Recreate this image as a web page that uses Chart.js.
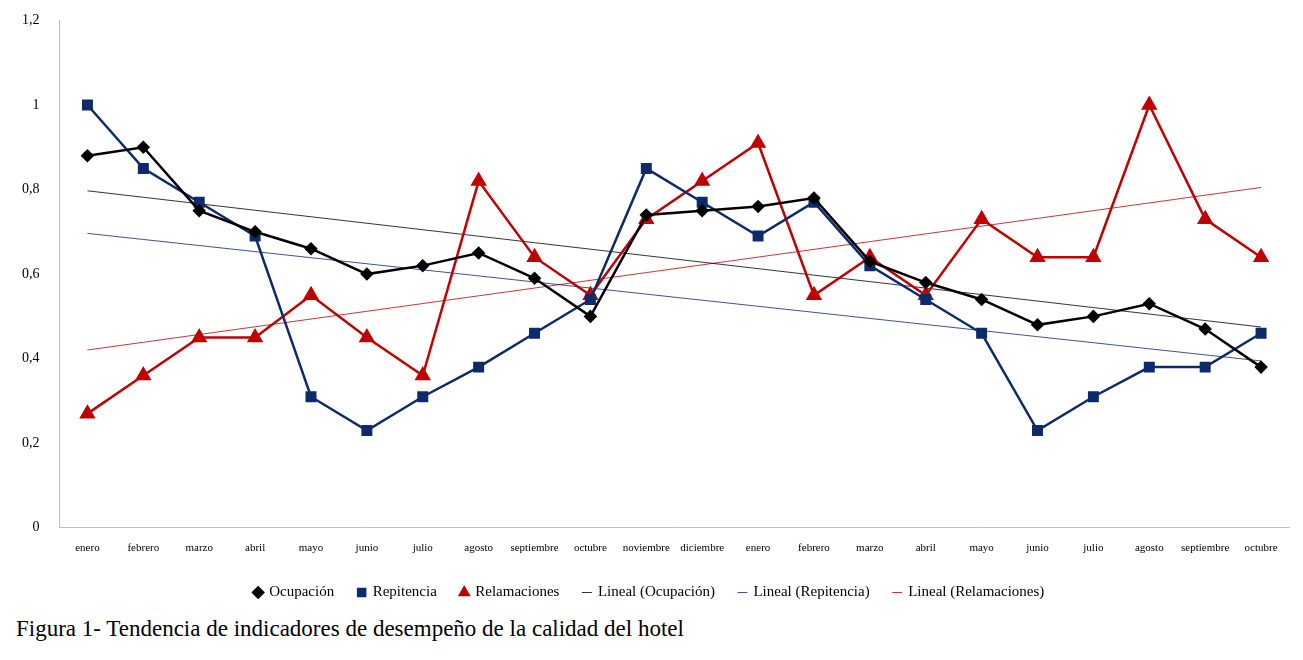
<!DOCTYPE html>
<html><head><meta charset="utf-8">
<script src="https://cdn.jsdelivr.net/npm/chart.js@4"></script>
<style>
body{margin:0;background:#fff;}
#wrap{position:absolute;left:0;top:0;width:1303px;height:610px;}
#cap{position:absolute;left:16px;top:616px;font-family:'Liberation Serif','Times New Roman',Times,serif;font-size:23px;color:#000;}
</style></head><body>
<div id="wrap"><canvas id="c"></canvas></div>
<div id="cap">Figura 1- Tendencia de indicadores de desempeño de la calidad del hotel</div>
<script>
const months = ['enero','febrero','marzo','abril','mayo','junio','julio','agosto','septiembre','octubre','noviembre','diciembre',
  'enero','febrero','marzo','abril','mayo','junio','julio','agosto','septiembre','octubre'];
const ocupacion = [0.88,0.90,0.75,0.70,0.66,0.60,0.62,0.65,0.59,0.50,0.74,0.75,0.76,0.78,0.63,0.58,0.54,0.48,0.50,0.53,0.47,0.38];
const repitencia = [1.0,0.85,0.77,0.69,0.31,0.23,0.31,0.38,0.46,0.54,0.85,0.77,0.69,0.77,0.62,0.54,0.46,0.23,0.31,0.38,0.38,0.46];
const relamaciones = [0.27,0.36,0.45,0.45,0.55,0.45,0.36,0.82,0.64,0.55,0.73,0.82,0.91,0.55,0.64,0.55,0.73,0.64,0.64,1.0,0.73,0.64];
const yTicks = ['0','0,2','0,4','0,6','0,8','1','1,2'];

// least-squares trend, as in the spreadsheet "Lineal" series
const trend = (ys) => {
  const n = ys.length;
  const mx = (n - 1) / 2;
  const my = ys.reduce((a, b) => a + b, 0) / n;
  let sxy = 0, sxx = 0;
  ys.forEach((y, i) => { sxy += (i - mx) * (y - my); sxx += (i - mx) ** 2; });
  const b = sxy / sxx;
  return ys.map((_, i) => my + b * (i - mx));
};

const serie = (label, data, color, style, size) => ({
  label, data, borderColor: color, backgroundColor: color, borderWidth: 2.5,
  pointStyle: style, pointRadius: size, pointHoverRadius: size, tension: 0,
});
const lineal = (label, data, color) => ({
  label, data, borderColor: color, backgroundColor: color, borderWidth: 0.8,
  pointRadius: 0, pointStyle: 'line', tension: 0,
});

new Chart(document.getElementById('c'), {
  type: 'line',
  data: {
    labels: months,
    datasets: [
      serie('Ocupación', ocupacion, '#000000', 'rectRot', 5),
      serie('Repitencia', repitencia, '#0d2a6b', 'rect', 6),
      serie('Relamaciones', relamaciones, '#c00000', 'triangle', 7),
      lineal('Lineal (Ocupación)', trend(ocupacion), '#000000'),
      lineal('Lineal (Repitencia)', trend(repitencia), '#0d2a6b'),
      lineal('Lineal (Relamaciones)', trend(relamaciones), '#c00000'),
    ],
  },
  options: {
    responsive: true, maintainAspectRatio: false, animation: false,
    layout: { padding: { top: 6, right: 14, left: 10, bottom: 0 } },
    plugins: {
      legend: {
        position: 'bottom',
        labels: { usePointStyle: true, color: '#000', font: { family: 'Liberation Serif', size: 15 },
          padding: 24, boxWidth: 7, boxHeight: 7 },
      },
      tooltip: { enabled: false },
    },
    scales: {
      x: {
        offset: true,
        grid: { display: false },
        border: { color: '#bfbfbf' },
        ticks: { color: '#000', font: { family: 'Liberation Serif', size: 11 }, maxRotation: 0, autoSkip: false, padding: 6 },
      },
      y: {
        min: 0, max: 1.2,
        grid: { display: false },
        border: { color: '#bfbfbf' },
        ticks: { stepSize: 0.2, color: '#000', font: { family: 'Liberation Serif', size: 14 }, padding: 12,
          callback: (v, i) => yTicks[i] },
      },
    },
  },
});
</script>
</body></html>
